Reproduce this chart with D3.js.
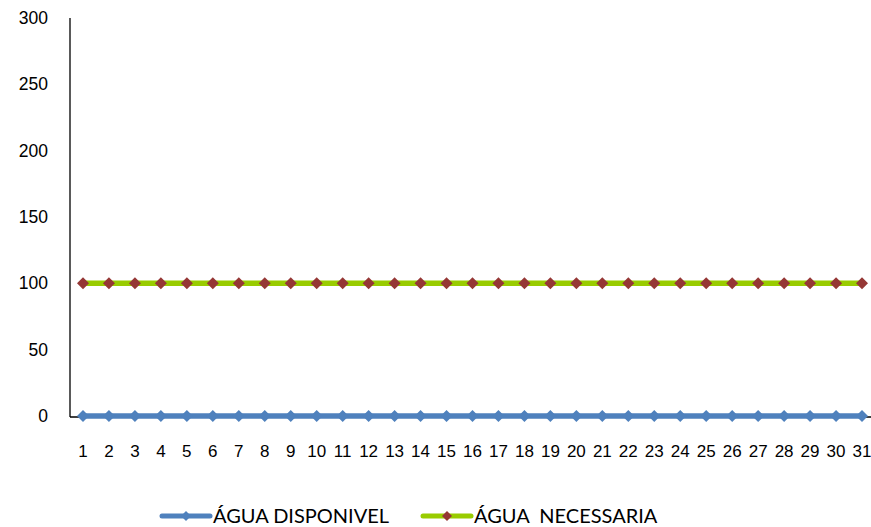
<!DOCTYPE html>
<html><head><meta charset="utf-8">
<script src="https://cdn.jsdelivr.net/npm/d3@7"></script>
<style>body{margin:0;background:#fff}svg{display:block}</style>
</head><body>
<svg id="c" width="871" height="527"></svg>
<script>
const days = d3.range(1, 32).map(String);
const aguaDisponivel = new Array(31).fill(0);
const aguaNecessaria = new Array(31).fill(100);
const yTicks = [0, 50, 100, 150, 200, 250, 300];
const seriesNames = ["ÁGUA DISPONIVEL", "ÁGUA  NECESSARIA"];

(function () {
const svg = d3.select("#c");
const mLeft = 70, mRight = 875, mTop = 18, mBottom = 416;
const x = d3.scaleBand().domain(days).range([mLeft, mRight]);
const y = d3.scaleLinear().domain([0, 300]).range([mBottom, mTop]);
const tickFont = "'Liberation Sans', Arial, sans-serif";

// y axis
svg.append("line").attr("x1", mLeft).attr("x2", mLeft).attr("y1", mTop).attr("y2", mBottom+1)
  .attr("stroke", "#000").attr("stroke-width", 1.3);
svg.append("g").selectAll("text").data(yTicks).join("text")
  .attr("x", 48).attr("y", d => y(d)).attr("dy", "0.35em").attr("text-anchor", "end")
  .attr("font-family", tickFont).attr("font-size", 17.5).text(d => d);
// x axis
svg.append("line").attr("x1", mLeft).attr("x2", mRight - 2).attr("y1", mBottom + 1).attr("y2", mBottom + 1)
  .attr("stroke", "#000").attr("stroke-width", 1.3);
svg.append("g").selectAll("text").data(days).join("text")
  .attr("x", d => x(d) + x.bandwidth()/2).attr("y", 451).attr("dy", "0.35em").attr("text-anchor", "middle")
  .attr("font-family", tickFont).attr("font-size", 17).text(d => d);

const cx = (d, i) => x(days[i]) + x.bandwidth()/2;
const line = d3.line().x((d, i) => cx(d, i)).y(d => y(d));
const diamond = s => `M0,${-s}L${s},0L0,${s}L${-s},0Z`;

function drawSeries(vals, lineColor, markColor) {
  svg.append("path").datum(vals).attr("d", line).attr("fill", "none")
    .attr("stroke", lineColor).attr("stroke-width", 5.5).attr("stroke-linejoin", "round");
  svg.append("g").selectAll("path").data(vals).join("path")
    .attr("transform", (d, i) => `translate(${cx(d, i)},${y(d)})`)
    .attr("d", diamond(6)).attr("fill", markColor);
}
drawSeries(aguaNecessaria, "#99CC00", "#953735");
drawSeries(aguaDisponivel, "#4F81BD", "#4F81BD");

// legend
const legend = [
  {name: seriesNames[0], lc: "#4F81BD", mc: "#4F81BD", x0: 162},
  {name: seriesNames[1], lc: "#99CC00", mc: "#953735", x0: 423}
];
const lg = svg.append("g").selectAll("g").data(legend).join("g")
  .attr("transform", d => `translate(${d.x0},516)`);
lg.append("line").attr("x1", 0).attr("x2", 48).attr("stroke", d => d.lc).attr("stroke-width", 5).attr("stroke-linecap", "round");
lg.append("path").attr("transform", "translate(24,0)").attr("d", diamond(5)).attr("fill", d => d.mc);
lg.append("text").attr("x", 51).attr("y", 0).attr("dy", "0.36em")
  .attr("font-family", "Lato, sans-serif").attr("font-size", 20)
  .style("white-space", "pre").text(d => d.name);
})();
</script>
</body></html>
